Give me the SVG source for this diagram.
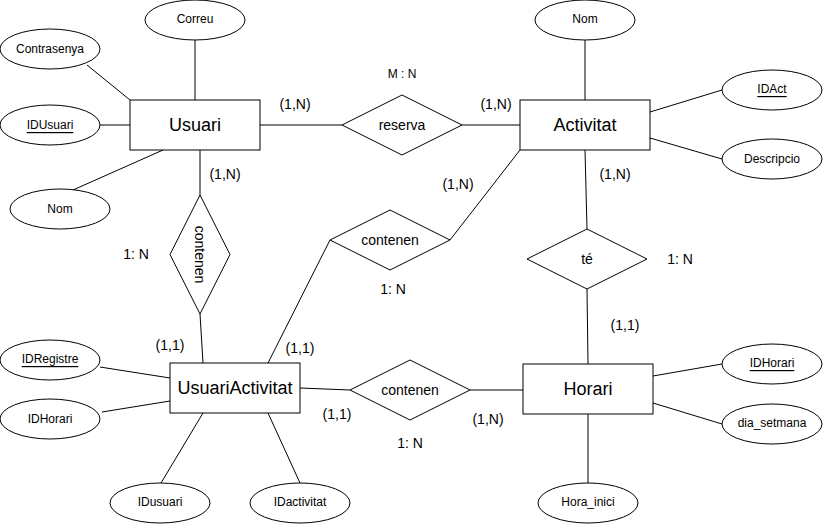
<svg xmlns="http://www.w3.org/2000/svg" width="823" height="524" viewBox="0 0 823 524">
<style>
.ent{fill:#fff;stroke:#000;stroke-width:1}
.att{fill:#fff;stroke:#000;stroke-width:1}
.rel{fill:#fff;stroke:#000;stroke-width:1}
.ln{stroke:#000;stroke-width:1;fill:none}
text{font-family:"Liberation Sans",Arial,sans-serif;fill:#000;text-anchor:middle;dominant-baseline:central}
.te{font-size:18px}
.ta{font-size:12px}
.tr{font-size:14px}
.tc{font-size:14px}
.u{text-decoration:underline}
</style>
<rect width="823" height="524" fill="#fff"/>
<g id="connectors">
<line class="ln" x1="195" y1="40" x2="195" y2="100"/>
<line class="ln" x1="87" y1="65" x2="130" y2="100"/>
<line class="ln" x1="100" y1="125" x2="130" y2="125"/>
<line class="ln" x1="73" y1="190" x2="163" y2="150"/>
<line class="ln" x1="260" y1="125" x2="342" y2="125"/>
<line class="ln" x1="462" y1="125" x2="520" y2="125"/>
<line class="ln" x1="585" y1="40" x2="585" y2="100"/>
<line class="ln" x1="650" y1="112" x2="722" y2="90"/>
<line class="ln" x1="650" y1="138" x2="722" y2="159"/>
<line class="ln" x1="200" y1="150" x2="200" y2="195"/>
<line class="ln" x1="200" y1="314" x2="203" y2="363"/>
<line class="ln" x1="450" y1="240" x2="520" y2="150"/>
<line class="ln" x1="330" y1="240" x2="268" y2="363"/>
<line class="ln" x1="585" y1="150" x2="587" y2="229"/>
<line class="ln" x1="587" y1="289" x2="588" y2="364"/>
<line class="ln" x1="300" y1="388" x2="350" y2="390"/>
<line class="ln" x1="470" y1="390" x2="523" y2="390"/>
<line class="ln" x1="653" y1="376" x2="722" y2="364"/>
<line class="ln" x1="653" y1="403" x2="722" y2="424"/>
<line class="ln" x1="588" y1="414" x2="588" y2="483"/>
<line class="ln" x1="100" y1="367" x2="170" y2="378"/>
<line class="ln" x1="102" y1="412" x2="170" y2="401"/>
<line class="ln" x1="203" y1="413" x2="161" y2="483"/>
<line class="ln" x1="268" y1="413" x2="300" y2="483"/>
</g>
<g id="labels">
<text class="ta" x="402" y="74">M : N</text>
<text class="tc" x="295" y="104">(1,N)</text>
<text class="tc" x="496" y="104">(1,N)</text>
<text class="tc" x="225" y="174">(1,N)</text>
<text class="tc" x="458" y="184">(1,N)</text>
<text class="tc" x="615" y="174">(1,N)</text>
<text class="tc" x="136" y="254">1: N</text>
<text class="tc" x="393" y="289">1: N</text>
<text class="tc" x="680" y="259">1: N</text>
<text class="tc" x="170" y="345">(1,1)</text>
<text class="tc" x="300" y="348">(1,1)</text>
<text class="tc" x="625" y="325">(1,1)</text>
<text class="tc" x="337" y="414">(1,1)</text>
<text class="tc" x="410" y="443">1: N</text>
<text class="tc" x="488" y="419">(1,N)</text>
</g>
<g id="Usuari"><rect class="ent" x="130" y="100" width="130" height="50"/><text class="te" x="195" y="125">Usuari</text></g>
<g id="Activitat"><rect class="ent" x="520" y="100" width="130" height="50"/><text class="te" x="585" y="125">Activitat</text></g>
<g id="UsuariActivitat"><rect class="ent" x="170" y="363" width="130" height="50"/><text class="te" x="235" y="388">UsuariActivitat</text></g>
<g id="Horari"><rect class="ent" x="523" y="364" width="130" height="50"/><text class="te" x="588" y="389">Horari</text></g>
<g id="reserva"><polygon class="rel" points="342,125 402,95 462,125 402,155"/><text class="tr" x="402" y="125">reserva</text></g>
<g id="contenen1"><polygon class="rel" points="200,195 230,254.5 200,314 170,254.5"/><text class="tr" transform="translate(200,254.5) rotate(90)" x="0" y="0">contenen</text></g>
<g id="contenen2"><polygon class="rel" points="330,240 390,210 450,240 390,270"/><text class="tr" x="390" y="240">contenen</text></g>
<g id="contenen3"><polygon class="rel" points="350,390 410,360 470,390 410,420"/><text class="tr" x="410" y="390">contenen</text></g>
<g id="te"><polygon class="rel" points="527,259 587,229 647,259 587,289"/><text class="tr" x="587" y="259">té</text></g>
<g id="Correu"><ellipse class="att" cx="195" cy="20" rx="50" ry="20"/><text class="ta" x="195" y="19">Correu</text></g>
<g id="Contrasenya"><ellipse class="att" cx="50" cy="49" rx="50" ry="20"/><text class="ta" x="50" y="49">Contrasenya</text></g>
<g id="IDUsuari"><ellipse class="att" cx="50" cy="125" rx="50" ry="20"/><text class="ta u" x="50" y="125">IDUsuari</text></g>
<g id="NomUsuari"><ellipse class="att" cx="60" cy="209" rx="50" ry="20"/><text class="ta" x="60" y="209">Nom</text></g>
<g id="NomAct"><ellipse class="att" cx="585" cy="20" rx="50" ry="20"/><text class="ta" x="585" y="19">Nom</text></g>
<g id="IDAct"><ellipse class="att" cx="772" cy="90" rx="50" ry="20"/><text class="ta u" x="772" y="89">IDAct</text></g>
<g id="Descripcio"><ellipse class="att" cx="772" cy="159" rx="50" ry="20"/><text class="ta" x="772" y="159">Descripcio</text></g>
<g id="IDHorariH"><ellipse class="att" cx="772" cy="364" rx="50" ry="20"/><text class="ta u" x="772" y="363">IDHorari</text></g>
<g id="dia_setmana"><ellipse class="att" cx="772" cy="424" rx="50" ry="20"/><text class="ta" x="772" y="423">dia_setmana</text></g>
<g id="Hora_inici"><ellipse class="att" cx="588" cy="503" rx="50" ry="20"/><text class="ta" x="588" y="502">Hora_inici</text></g>
<g id="IDRegistre"><ellipse class="att" cx="50" cy="360" rx="50" ry="20"/><text class="ta u" x="50" y="359">IDRegistre</text></g>
<g id="IDHorariUA"><ellipse class="att" cx="50" cy="419" rx="50" ry="20"/><text class="ta" x="50" y="419">IDHorari</text></g>
<g id="IDusuari"><ellipse class="att" cx="160" cy="503" rx="50" ry="20"/><text class="ta" x="160" y="502">IDusuari</text></g>
<g id="IDactivitat"><ellipse class="att" cx="300" cy="503" rx="50" ry="20"/><text class="ta" x="300" y="502">IDactivitat</text></g>
</svg>
